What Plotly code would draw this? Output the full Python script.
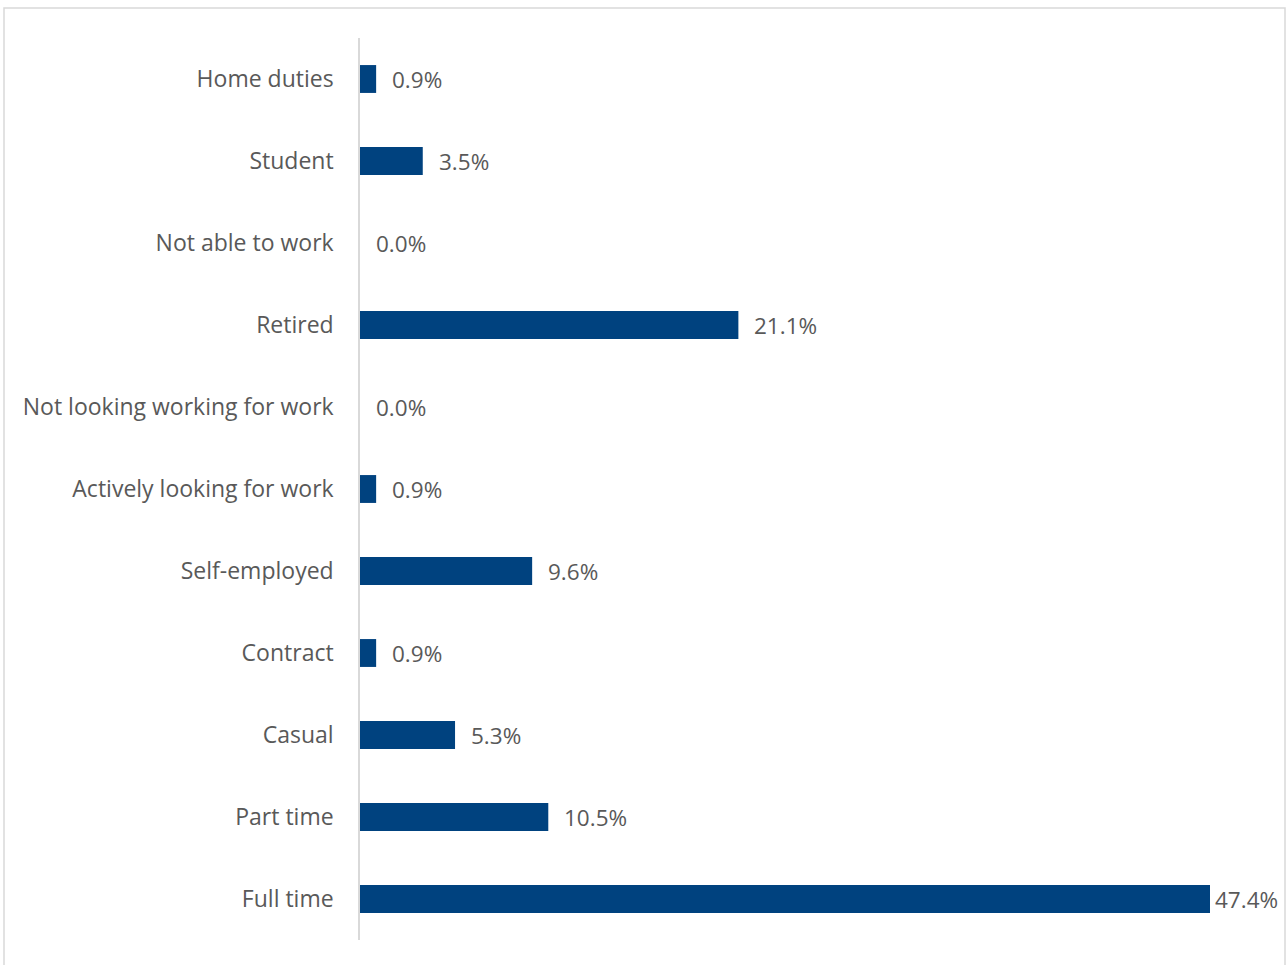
import plotly.graph_objects as go

categories = ["Full time", "Part time", "Casual", "Contract", "Self-employed",
              "Actively looking for work", "Not looking working for work",
              "Retired", "Not able to work", "Student", "Home duties"]
values = [47.4, 10.5, 5.3, 0.9, 9.6, 0.9, 0.0, 21.1, 0.0, 3.5, 0.9]

BAR = "#00427F"
TXT = "#595959"
FONT = "Open Sans, Noto Sans, sans-serif"
FS = 23

fig = go.Figure()
fig.add_trace(go.Bar(
    y=categories, x=values, orientation="h",
    marker=dict(color=BAR, line=dict(width=0)),
    width=0.34, hoverinfo="skip",
))

annotations = []
for c, v in zip(categories, values):
    annotations.append(dict(
        x=v, y=c, xref="x", yref="y", text=f"{v:.1f}%",
        showarrow=False, xanchor="left", yanchor="middle",
        xshift=3 if v == max(values) else 14,
        font=dict(family=FONT, size=22.5, color=TXT),
    ))

L, R, T, B = 360, 1210, 38, 940
W, H = 1287, 965
pw, ph = R - L, B - T

fig.update_layout(
    width=W, height=H,
    margin=dict(l=L, r=W - R, t=T, b=H - B, pad=0),
    paper_bgcolor="white", plot_bgcolor="white",
    showlegend=False,
    font=dict(family=FONT, size=FS, color=TXT),
    xaxis=dict(range=[0, max(values)], showgrid=False, zeroline=False,
               showticklabels=False, showline=False, fixedrange=True),
    yaxis=dict(showgrid=False, zeroline=False, showline=True,
               linecolor="#D9D9D9", linewidth=1.5, ticks="",
               ticklabelstandoff=20,
               tickfont=dict(family=FONT, size=FS, color=TXT),
               range=[-0.5, len(categories) - 0.5]),
    annotations=annotations,
    shapes=[dict(type="rect", xref="paper", yref="paper",
                 x0=(4 - L) / pw, x1=(1285 - L) / pw,
                 y0=(B - 975) / ph, y1=(B - 8) / ph,
                 line=dict(color="#D9D9D9", width=1.5), layer="below")],
)

fig.write_html("out.html", config={"displayModeBar": False},
               post_script="document.body.style.margin='0';document.body.style.overflow='hidden';")
